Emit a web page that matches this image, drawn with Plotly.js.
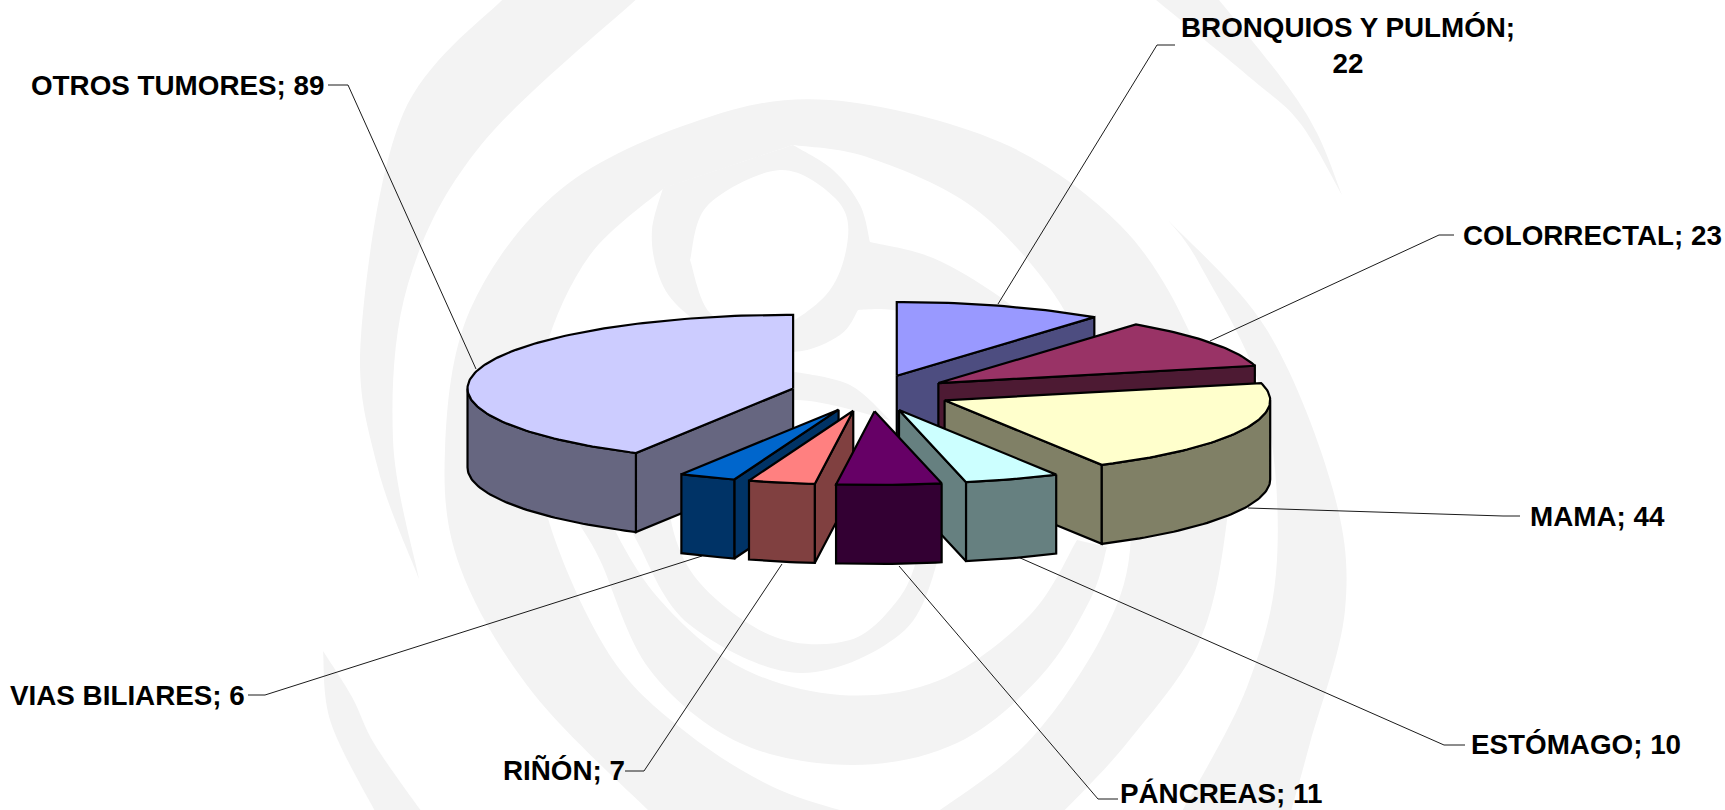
<!DOCTYPE html>
<html>
<head>
<meta charset="utf-8">
<script src="https://cdn.plot.ly/plotly-3.0.1.min.js"></script>
<style>html,body{margin:0;padding:0;background:#fff}#chart{width:1725px;height:810px}</style>
</head>
<body>
<div id="chart"></div>
<script>
// ---- Data: clockwise from 12 o'clock ----
const categories = ["BRONQUIOS Y PULMÓN","COLORRECTAL","MAMA","ESTÓMAGO","PÁNCREAS","RIÑÓN","VIAS BILIARES","OTROS TUMORES"];
const values = [22,23,44,10,11,7,6,89];

// ---- Styles ----
const topColors  = ["#9999FF","#993366","#FFFFCC","#CCFFFF","#660066","#FF8080","#0066CC","#CCCCFF"];
const sideColors = ["#4D4D80","#4D1A33","#808066","#668080","#330033","#804040","#003366","#666680"];
const drawOrder  = [0,7,1,2,3,6,5,4];

// ---- Layout of the tilted exploded pie, in page pixels ----
const pie = {cx:871, cy:393, a:325.6, b:73.7, depth:79, explode:0.247};
const labelText = [
  categories[0]+";<br>"+values[0], categories[1]+"; "+values[1], categories[2]+"; "+values[2],
  categories[3]+"; "+values[3], categories[4]+"; "+values[4], categories[5]+"; "+values[5],
  categories[6]+"; "+values[6], categories[7]+"; "+values[7]];
const labelX = [1348,1592,1597,1576,1221,564,127,177];
const labelY = [45,235,516,744,793,770,695,85];
const leaderX = [[1175,1157,998],[1454,1439,1210],[1520,1503,1248],[1465,1444,1018],[1118,1098,899],[625,644,782],[248,265,702],[328,348,476]];
const leaderY = [[45,45,304],[235,235,341],[516,516,508],[745,745,557],[799,799,566],[771,771,564],[695,695,556],[85,85,369]];

// ---- Faint background swirl: smooth edges, in page pixels ----
const swirl = [
  [[[507,-5],[403,114],[361,336],[377,465],[419,579]],[[419,579],[393,440],[408,284],[481,145],[641,-5]]],
  [[[1215,-5],[1283,80],[1317,133],[1342,195]],[[1342,195],[1300,123],[1253,80],[1150,-5]]],
  [[[1168,220],[1267,330],[1333,490],[1345,610],[1310,743],[1290,815]],
   [[1180,815],[1247,687],[1277,560],[1263,397],[1200,265],[1168,220]]],
  [[[653,815],[533,693],[460,567],[445,450],[470,310],[560,190],[700,120],[830,100],[1000,142],[1120,225],[1190,333],[1225,450],[1227,520],[1200,640],[1127,743],[1060,815]],
   [[933,815],[1027,743],[1100,640],[1130,550],[1118,440],[1085,350],[1040,275],[967,203],[867,157],[793,145]],
   [[793,145],[664,188]],
   [[664,188],[590,255],[545,350],[535,440],[555,540],[613,660],[687,733],[773,787],[857,815]]],
  [[[793,145],[833,170],[860,205],[870,242]],[[870,242],[933,258],[1000,297],[1050,340]],[[1050,340],[960,322],[893,310],[858,310]],
   [[858,310],[840,335],[793,352],[720,340]],[[720,340],[675,303],[657,270],[652,230],[663,188]],[[663,188],[793,145]]],
  [[[796,372],[850,385],[890,420]],[[890,420],[796,400],[720,420],[670,480],[690,570],[770,635],[850,640],[900,597],[920,550]],
   [[920,550],[943,543]],[[943,543],[905,630],[800,673],[690,625],[640,547],[625,500],[650,440],[720,385],[796,372]]],
  [[[1077,540],[1030,615],[940,680],[840,695],[740,667],[660,600],[610,520],[600,470]],
   [[600,470],[570,500],[600,560],[650,670],[740,743],[853,765],[957,743],[1040,677],[1090,600],[1107,547]],
   [[1107,547],[1077,540]]],
  [[[323,651],[331,723],[377,815]],[[424,815],[375,745],[352,697],[323,651]]]
];
const swirlHole = [[[690,260],[708,205],[780,170],[835,198],[848,237],[826,295],[760,335],[710,313],[690,260]]];

function smooth(pts){
  let d = "";
  for(let i=0;i<pts.length-1;i++){
    const p0=pts[Math.max(i-1,0)],p1=pts[i],p2=pts[i+1],p3=pts[Math.min(i+2,pts.length-1)];
    const c1=[p1[0]+(p2[0]-p0[0])/6,p1[1]+(p2[1]-p0[1])/6];
    const c2=[p2[0]-(p3[0]-p1[0])/6,p2[1]-(p3[1]-p1[1])/6];
    d+=`C${c1[0]},${c1[1]} ${c2[0]},${c2[1]} ${p2[0]},${p2[1]} `;
  }
  return d;
}
function piecePath(edges){
  let d=`M${edges[0][0][0]},${edges[0][0][1]} `;
  edges.forEach((e,i)=>{ if(i>0) d+=`L${e[0][0]},${e[0][1]} `; d+=smooth(e); });
  return d+"Z";
}
const shapes = [];
swirl.forEach(p=>shapes.push({type:"path",path:piecePath(p),xref:"x",yref:"y",layer:"below",fillcolor:"#F3F3F3",line:{width:0}}));
swirlHole.forEach(p=>shapes.push({type:"path",path:piecePath([p]),xref:"x",yref:"y",layer:"below",fillcolor:"#FFFFFF",line:{width:0}}));

// ---- Geometry from the values ----
const total = values.reduce((s,v)=>s+v,0);
const starts = []; let run = 0;
values.forEach(v=>{starts.push(run/total*2*Math.PI); run+=v;});
const ends = values.map((v,i)=>starts[i]+v/total*2*Math.PI);

function pt(i,theta,r,z){
  const mid=(starts[i]+ends[i])/2, e=pie.explode;
  return [pie.cx+pie.a*(e*Math.sin(mid)+r*Math.sin(theta)),
          pie.cy-pie.b*(e*Math.cos(mid)+r*Math.cos(theta))+z];
}
function arc(i,t1,t2,z){
  const out=[], n=Math.max(2,Math.ceil((t2-t1)/0.02));
  for(let k=0;k<=n;k++){ out.push(pt(i,t1+(t2-t1)*k/n,1,z)); }
  return out;
}
function polyTrace(pts,fill){
  const closed=pts.concat([pts[0]]);
  return {type:"scatter",mode:"lines",x:closed.map(p=>p[0]),y:closed.map(p=>p[1]),fill:"toself",fillcolor:fill,
          line:{color:"#000",width:2.2},hoverinfo:"skip",showlegend:false};
}
const traces = [];
leaderX.forEach((xs,i)=>traces.push({type:"scatter",mode:"lines",x:xs,y:leaderY[i],line:{color:"#000",width:0.9},hoverinfo:"skip",showlegend:false}));

drawOrder.forEach(i=>{
  const t1=starts[i], t2=ends[i], d=pie.depth, side=sideColors[i];
  // cut faces turned toward the viewer
  if(Math.sin(t1)<-1e-6){
    const a=pt(i,t1,0,0), b=pt(i,t1,1,0), c=pt(i,t1,1,d), e=pt(i,t1,0,d);
    traces.push(polyTrace([a,b,c,e],side));
  }
  if(Math.sin(t2)>1e-6){
    const a=pt(i,t2,0,0), b=pt(i,t2,1,0), c=pt(i,t2,1,d), e=pt(i,t2,0,d);
    traces.push(polyTrace([a,b,c,e],side));
  }
  // outer rim on the front half
  const r1=Math.max(t1,Math.PI/2), r2=Math.min(t2,1.5*Math.PI);
  if(r2>r1){
    traces.push(polyTrace(arc(i,r1,r2,0).concat(arc(i,r1,r2,d).reverse()),side));
  }
  // top face
  traces.push(polyTrace([pt(i,t1,0,0)].concat(arc(i,t1,t2,0)),topColors[i]));
});

const annotations = labelText.map((t,i)=>({x:labelX[i],y:labelY[i],xref:"x",yref:"y",text:"<b>"+t+"</b>",showarrow:false,
  xanchor:"center",yanchor:"middle",align:"center",font:{family:"Liberation Sans, Arial, sans-serif",size:27.8,color:"#000"}}));

const layout = {
  width:1725,height:810,margin:{l:0,r:0,t:0,b:0},paper_bgcolor:"#fff",plot_bgcolor:"#fff",showlegend:false,
  xaxis:{range:[0,1725],visible:false,fixedrange:true},
  yaxis:{range:[810,0],visible:false,fixedrange:true},
  shapes:shapes,annotations:annotations
};
Plotly.newPlot("chart",traces,layout,{displayModeBar:false,staticPlot:true});
</script>
</body>
</html>
